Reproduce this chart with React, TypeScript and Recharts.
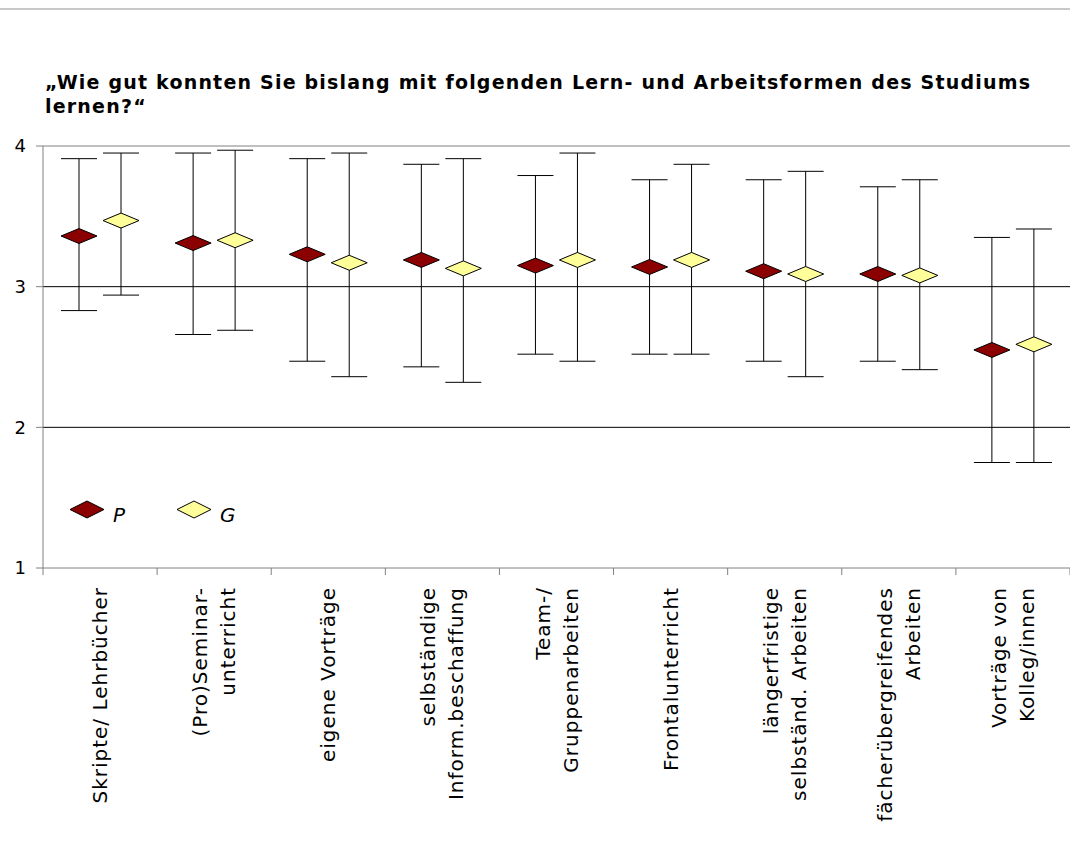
import { ComposedChart, Bar, ErrorBar, LabelList, XAxis, YAxis, CartesianGrid } from "recharts";

const categories = [
  "Skripte/ Lehrbücher",
  "(Pro)Seminar-\nunterricht",
  "eigene Vorträge",
  "selbständige\nInform.beschaffung",
  "Team-/\nGruppenarbeiten",
  "Frontalunterricht",
  "längerfristige\nselbständ. Arbeiten",
  "fächerübergreifendes\nArbeiten",
  "Vorträge von\nKolleg/innen",
];

// P: Mittelwert mit unterem / oberem Ende des Fehlerbalkens
const pMean = [3.36, 3.31, 3.23, 3.19, 3.15, 3.14, 3.11, 3.09, 2.55];
const pLow = [2.83, 2.66, 2.47, 2.43, 2.52, 2.52, 2.47, 2.47, 1.75];
const pHigh = [3.91, 3.95, 3.91, 3.87, 3.79, 3.76, 3.76, 3.71, 3.35];

// G
const gMean = [3.47, 3.33, 3.17, 3.13, 3.19, 3.19, 3.09, 3.08, 2.59];
const gLow = [2.94, 2.69, 2.36, 2.32, 2.47, 2.52, 2.36, 2.41, 1.75];
const gHigh = [3.95, 3.97, 3.95, 3.91, 3.95, 3.87, 3.82, 3.76, 3.41];

const yTicks = [1, 2, 3, 4];

const P_COLOR = "#8B0000";
const G_COLOR = "#FFFF99";
const AXIS = "#808080";
const FONT = "'DejaVu Sans', Verdana, sans-serif";

const data = categories.map((name, i) => ({
  name,
  p: pMean[i],
  pErr: [pMean[i] - pLow[i], pHigh[i] - pMean[i]],
  g: gMean[i],
  gErr: [gMean[i] - gLow[i], gHigh[i] - gMean[i]],
}));

function Diamond({ cx, cy, w, h, fill }: { cx: number; cy: number; w: number; h: number; fill: string }) {
  return (
    <polygon
      points={`${cx - w / 2},${cy} ${cx},${cy - h / 2} ${cx + w / 2},${cy} ${cx},${cy + h / 2}`}
      fill={fill}
      stroke="#000"
      strokeWidth={1}
    />
  );
}

const diamondLabel = (fill: string) => (props: any) => {
  const vb = props.viewBox ?? props;
  return <Diamond cx={vb.x + vb.width / 2} cy={vb.y} w={36} h={15} fill={fill} />;
};

// label text plus tick marks on the category borders (payload.offset = half band)
function CategoryTick({ x, y, payload, index }: any) {
  const lines = String(payload.value).split("\n");
  const lh = 28;
  const half = payload.offset ?? 0;
  return (
    <g>
      {half > 0 && <line x1={x - half} y1={y} x2={x - half} y2={y + 7} stroke={AXIS} />}
      {half > 0 && index === categories.length - 1 && (
        <line x1={x + half} y1={y} x2={x + half} y2={y + 7} stroke={AXIS} />
      )}
      <g transform={`translate(${x},${y + 19}) rotate(-90)`}>
        <text textAnchor="end" fontFamily={FONT} fontSize={20} letterSpacing={1} fill="#000">
          {lines.map((l, i) => (
            <tspan key={i} x={0} y={7 + (i - (lines.length - 1) / 2) * lh}>
              {l}
            </tspan>
          ))}
        </text>
      </g>
    </g>
  );
}

function LegendItem({ label, fill, gap }: { label: string; fill: string; gap: number }) {
  return (
    <div style={{ display: "flex", alignItems: "flex-start", marginRight: gap }}>
      <svg width={36} height={19}>
        <Diamond cx={18} cy={9.5} w={34} h={17} fill={fill} />
      </svg>
      <span style={{ fontStyle: "italic", fontSize: 20, marginLeft: 8, marginTop: 3, lineHeight: "24px" }}>{label}</span>
    </div>
  );
}

export default function App() {
  return (
    <div style={{ position: "absolute", top: 0, left: 0, width: 1070, height: 866, background: "#fff", fontFamily: FONT, color: "#000" }}>
      <div style={{ position: "absolute", top: 8, left: 0, width: 1070, height: 2, background: "#c8c8c8" }} />
      <div style={{ position: "absolute", top: 70, left: 45, fontWeight: "bold", fontSize: 19, lineHeight: "24px", letterSpacing: 1.2, whiteSpace: "nowrap" }}>
        „Wie gut konnten Sie bislang mit folgenden Lern- und Arbeitsformen des Studiums
        <br />
        lernen?“
      </div>
      <div style={{ position: "absolute", top: 0, left: 0 }}>
        <ComposedChart width={1070} height={866} data={data} margin={{ top: 146, right: 0, bottom: 8, left: 0 }} barGap={6}>
          <CartesianGrid vertical={false} stroke="#000" horizontalValues={[2, 3]} />
          <CartesianGrid vertical={false} stroke={AXIS} horizontalValues={[4]} />
          <XAxis
            dataKey="name"
            type="category"
            interval={0}
            height={290}
            tickSize={0}
            tickMargin={0}
            tickLine={false}
            axisLine={{ stroke: AXIS }}
            tick={<CategoryTick />}
          />
          <YAxis
            type="number"
            domain={[1, 4]}
            ticks={yTicks}
            interval={0}
            width={43}
            tickSize={7}
            tickMargin={10}
            axisLine={{ stroke: AXIS }}
            tickLine={{ stroke: AXIS }}
            tick={{ fontSize: 18, fill: "#000", fontFamily: FONT }}
          />
          <Bar dataKey="p" fill="none" barSize={36} isAnimationActive={false}>
            <ErrorBar dataKey="pErr" width={18} stroke="#000" strokeWidth={1} direction="y" />
            <LabelList dataKey="p" content={diamondLabel(P_COLOR)} />
          </Bar>
          <Bar dataKey="g" fill="none" barSize={36} isAnimationActive={false}>
            <ErrorBar dataKey="gErr" width={18} stroke="#000" strokeWidth={1} direction="y" />
            <LabelList dataKey="g" content={diamondLabel(G_COLOR)} />
          </Bar>
        </ComposedChart>
      </div>
      <div style={{ position: "absolute", top: 500, left: 69, display: "flex" }}>
        <LegendItem label="P" fill={P_COLOR} gap={51} />
        <LegendItem label="G" fill={G_COLOR} gap={0} />
      </div>
    </div>
  );
}
